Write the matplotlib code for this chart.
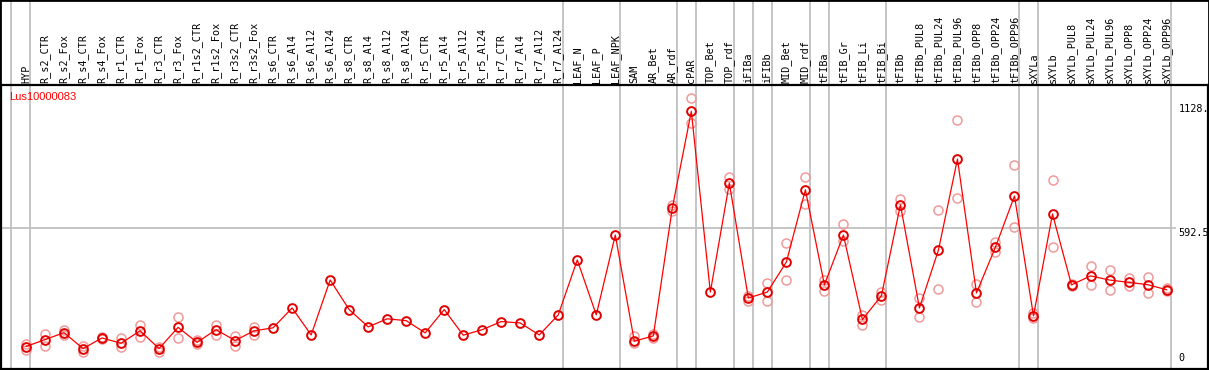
import matplotlib
matplotlib.use("Agg")
import matplotlib.pyplot as plt
import matplotlib.transforms as mtransforms
from matplotlib.patches import Rectangle

gene = "Lus10000083"

categories = [
    "HYP", "R_s2_CTR", "R_s2_Fox", "R_s4_CTR", "R_s4_Fox", "R_r1_CTR", "R_r1_Fox",
    "R_r3_CTR", "R_r3_Fox", "R_r1s2_CTR", "R_r1s2_Fox", "R_r3s2_CTR", "R_r3s2_Fox",
    "R_s6_CTR", "R_s6_Al4", "R_s6_Al12", "R_s6_Al24", "R_s8_CTR", "R_s8_Al4",
    "R_s8_Al12", "R_s8_Al24", "R_r5_CTR", "R_r5_Al4", "R_r5_Al12", "R_r5_Al24",
    "R_r7_CTR", "R_r7_Al4", "R_r7_Al12", "R_r7_Al24", "LEAF_N", "LEAF_P", "LEAF_NPK",
    "SAM", "AR_Bet", "AR_rdf", "cPAR", "TOP_Bet", "TOP_rdf", "iFIBa", "iFIBb",
    "MID_Bet", "MID_rdf", "tFIBa", "tFIB_Gr", "tFIB_Li", "tFIB_Bi", "tFIBb",
    "tFIBb_PUL8", "tFIBb_PUL24", "tFIBb_PUL96", "tFIBb_OPP8", "tFIBb_OPP24",
    "tFIBb_OPP96", "sXYLa", "sXYLb", "sXYLb_PUL8", "sXYLb_PUL24", "sXYLb_PUL96",
    "sXYLb_OPP8", "sXYLb_OPP24", "sXYLb_OPP96",
]

# mean expression per sample
means = [
    78, 108, 138, 69, 115, 92, 146, 69, 161, 96, 151, 104, 146,
    159, 245, 128, 366, 238, 163, 198, 190, 137, 238, 127, 151,
    186, 180, 128, 215, 453, 215, 561,
    101, 124, 678, 1097, 314, 786, 288, 314, 444, 757,
    345, 561, 195, 298, 692, 245, 496, 890, 310, 509, 730,
    211, 652, 345, 384, 366, 356, 346, 324,
]

# replicate values (None = replicate hidden under the mean)
rep_a = [
    90, 134, 148, 82, 120, 117, 172, 77, 205, 105, 170, 125, 163,
    None, None, None, None, None, None, None, None, None, None, None, None,
    None, None, None, None, None, None, None,
    122, 134, 691, 1153, None, 813, 298, 355, 526, 812,
    368, 609, 216, 316, 718, 288, 669, 1058, 350, 529, 864,
    221, 799, 350, 428, 410, 375, 378, 332,
]
rep_b = [
    65, 82, 128, 56, 111, 74, 120, 53, 117, 88, 130, 79, 128,
    None, None, None, None, None, None, None, None, None, None, None, None,
    None, None, None, None, None, None, None,
    94, 114, 667, 1045, None, 760, 277, 277, 366, 695,
    320, 533, 173, 278, 667, 206, 327, 721, 271, 486, 596,
    200, 509, 339, 345, 323, 339, 310, 317,
]

# group separators drawn just after these sample indices
separators = [-1, 0, 28, 31, 34, 35, 37, 38, 39, 41, 42, 45, 52, 53, 60]

ytick_vals = [1128, 592.5, 0]
ytick_text = ["1128.", "592.5", "0"]

W, H = 1209, 370
fig = plt.figure(figsize=(W / 100, H / 100), dpi=100)
ax = fig.add_axes([1 / W, 1.5 / H, 1207 / W, 283.5 / H])

x = list(range(len(categories)))
ax.set_xlim(-1.315, 62.18)
ax.set_ylim(-17.3, 1211)
ax.set_xticks([])
ax.set_yticks([])
for sp in ax.spines.values():
    sp.set_color("black")
    sp.set_linewidth(1.6)

# vertical separators through the label strip as well
top_frac = 369 / 283.5
for s in separators:
    ax.axvline(s + 0.23, ymin=0, ymax=top_frac, color="#c0c0c0", lw=1.3,
               clip_on=False, zorder=1)
# horizontal guide at the middle tick
ax.plot([-1.315, 60.45], [592.5, 592.5], color="#c0c0c0", lw=1.3, zorder=1)

# replicates
for reps in (rep_a, rep_b):
    xs = [i for i, v in zip(x, reps) if v is not None]
    ys = [v for v in reps if v is not None]
    ax.plot(xs, ys, "o", mfc="none", mec="#f09a9a", ms=6.5, mew=1.1,
            ls="none", zorder=2)

ax.plot(x, means, "-", color="red", lw=0.9, zorder=3)
ax.plot(x, means, "o", mfc="none", mec="#e00000", ms=6.3, mew=1.4,
        ls="none", zorder=4)

# rotated sample names above the plot
trans = mtransforms.blended_transform_factory(ax.transData, ax.transAxes)
for i, name in enumerate(categories):
    ax.text(i, 1 + 2 / 283.5, name, rotation=90, ha="center", va="bottom",
            transform=trans, family="DejaVu Sans Mono", fontsize=7.3,
            color="black", clip_on=False)

# value labels on the right
for v, t in zip(ytick_vals, ytick_text):
    va = "bottom" if v == 0 else "top"
    yy = v + 6 if v == 0 else v
    ax.text(60.62, yy, t, ha="left", va=va, family="DejaVu Sans Mono",
            fontsize=7.3, color="black")

ax.text(8.3 / 1207, (369 - 97) / 283.5, gene, transform=ax.transAxes,
        ha="left", va="center", family="Liberation Sans", fontsize=8,
        color="red")

fig.add_artist(Rectangle((0, 0), 1, 1, transform=fig.transFigure, fill=False,
                         edgecolor="black", lw=2))

fig.savefig("out.png", dpi=100)
